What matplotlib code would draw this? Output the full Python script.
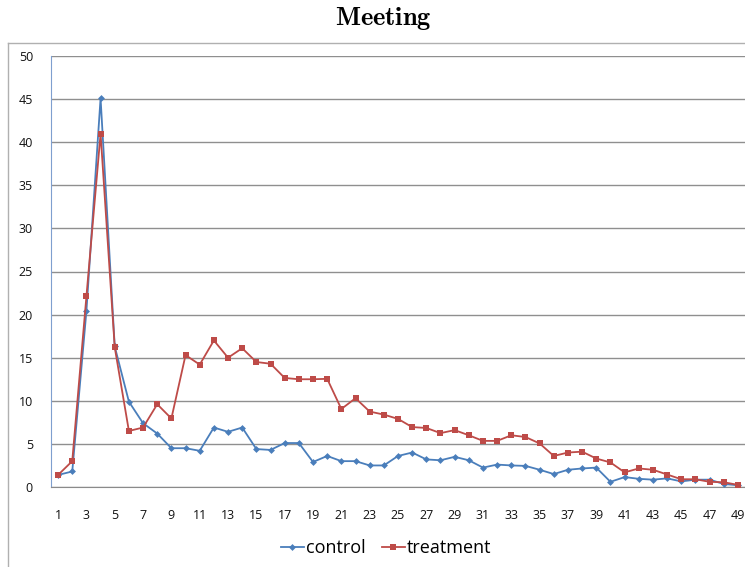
import matplotlib
matplotlib.use("Agg")
import matplotlib.pyplot as plt
from matplotlib.lines import Line2D

# ── Data ───────────────────────────────────────────────────────────────────
days = list(range(1, 50))
control = [1.4, 1.8, 20.4, 45.1, 16.3, 9.9, 7.4, 6.2, 4.5, 4.5,
           4.2, 6.9, 6.4, 6.9, 4.4, 4.3, 5.1, 5.1, 2.9, 3.6,
           3.0, 3.0, 2.5, 2.5, 3.6, 4.0, 3.2, 3.1, 3.5, 3.1,
           2.25, 2.6, 2.5, 2.45, 2.0, 1.5, 2.0, 2.15, 2.25, 0.6,
           1.15, 0.95, 0.85, 1.0, 0.65, 0.85, 0.85, 0.35, 0.2]
treatment = [1.4, 3.0, 22.1, 41.0, 16.2, 6.5, 6.9, 9.6, 7.95, 15.3,
             14.2, 17.0, 15.0, 16.1, 14.5, 14.3, 12.65, 12.5, 12.5, 12.55,
             9.05, 10.3, 8.75, 8.4, 7.9, 6.95, 6.85, 6.25, 6.6, 6.0,
             5.35, 5.35, 6.0, 5.8, 5.05, 3.6, 4.0, 4.1, 3.3, 2.85,
             1.7, 2.15, 2.0, 1.45, 0.9, 0.9, 0.6, 0.55, 0.25]

y_ticks = [0, 5, 10, 15, 20, 25, 30, 35, 40, 45, 50]
x_ticks = days[::2]

BLUE = "#4A7EBB"
RED = "#BE4B48"

plt.rcParams["mathtext.fontset"] = "cm"
plt.rcParams["font.family"] = ["Open Sans", "DejaVu Sans"]

fig = plt.figure(figsize=(7.45, 5.67), dpi=100)
ax = fig.add_axes([51 / 745, 1 - 487 / 567, 694 / 745, 431 / 567])

ax.plot(days, control, color=BLUE, lw=1.3, marker="D", ms=3.5,
        markeredgewidth=0, label="control", zorder=3)
ax.plot(days, treatment, color=RED, lw=1.3, marker="s", ms=5,
        markeredgewidth=0, label="treatment", zorder=3)

ax.set_xlim(0.5, 49.5)
ax.set_ylim(0, 50)
ax.set_yticks(y_ticks)
ax.set_xticks(x_ticks)
ax.tick_params(axis="both", length=0, labelsize=9, labelcolor="#111111")
ax.tick_params(axis="x", pad=16)
ax.tick_params(axis="y", pad=13)
ax.grid(axis="y", color="#8f8f8f", lw=1.0)
ax.set_axisbelow(True)

for s in ["top", "right"]:
    ax.spines[s].set_visible(False)
ax.spines["left"].set_color("#7f9fcf")
ax.spines["bottom"].set_color("#8a8a8a")

# Excel-style chart frame (partially visible)
fig.add_artist(Line2D([8 / 745, 8 / 745], [0, 1 - 43 / 567],
                      transform=fig.transFigure, color="#b0b0b0", lw=1))
fig.add_artist(Line2D([8 / 745, 1], [1 - 43 / 567, 1 - 43 / 567],
                      transform=fig.transFigure, color="#b0b0b0", lw=1))

fig.text(383 / 745, 1 - 19 / 567, r"$\mathbf{Meeting}$", ha="center",
         va="center", fontsize=19)

fig.legend(loc="center", bbox_to_anchor=(386 / 745, 1 - 548 / 567),
           ncol=2, frameon=False, fontsize=13, handlelength=1.3,
           handletextpad=0.1, columnspacing=0.9)

fig.savefig("out.png", dpi=100)
